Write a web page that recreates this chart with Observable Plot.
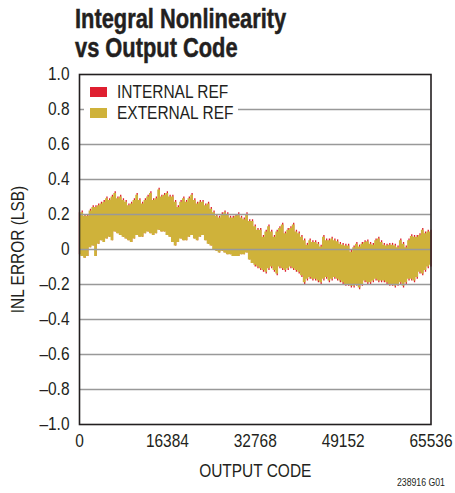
<!DOCTYPE html>
<html>
<head>
<meta charset="utf-8">
<script src="https://cdn.jsdelivr.net/npm/d3@7"></script>
<script src="https://cdn.jsdelivr.net/npm/@observablehq/plot@0.6"></script>
<style>
  body { margin: 0; background: #fff; }
  #wrap { position: relative; width: 455px; height: 493px; overflow: hidden; color: #231f20;
          font-family: "Liberation Sans", Arial, sans-serif; }
  #title { position: absolute; left: 75px; top: 3.5px; font-weight: bold; font-size: 28px; line-height: 29px;
           white-space: nowrap; transform: scaleX(0.78); transform-origin: 0 0; -webkit-text-stroke: 0.5px #231f20; }
  #chart { position: absolute; left: 0; top: 62px; }
  #legendBox { position: absolute; left: 84px; top: 82px; width: 154px; height: 44px; background: #fff; }
  .sw { position: absolute; left: 90px; width: 16.5px; height: 10.5px; }
  .lt { position: absolute; left: 116.5px; font-size: 18px; line-height: 18px; white-space: nowrap;
        transform: scaleX(0.86); transform-origin: 0 0; }
  #note { position: absolute; left: 397px; top: 477.5px; font-size: 10px; line-height: 10px; white-space: nowrap;
          transform: scaleX(0.87); transform-origin: 0 0; }
</style>
</head>
<body>
<div id="wrap">
  <div id="title">Integral Nonlinearity<br>vs Output Code</div>
  <div id="chart"></div>
  <div id="legendBox"></div>
  <div id="note">238916 G01</div>
</div>
<script>
// ---- data ----
const codes = [0,512,1024,1536,2048,2560,3072,3584,4096,4608,5120,5632,6144,6656,7168,7680,8192,8704,9216,9728,10240,10752,11264,11776,12288,12800,13312,13824,14336,14848,15360,15872,16384,16896,17408,17920,18432,18944,19456,19968,20480,20992,21504,22016,22528,23040,23552,24064,24576,25088,25600,26112,26624,27136,27648,28160,28672,29184,29696,30208,30720,31232,31744,32256,32768,33280,33792,34304,34816,35328,35840,36352,36864,37376,37888,38400,38912,39424,39936,40448,40960,41472,41984,42496,43008,43520,44032,44544,45056,45568,46080,46592,47104,47616,48128,48640,49152,49664,50176,50688,51200,51712,52224,52736,53248,53760,54272,54784,55296,55808,56320,56832,57344,57856,58368,58880,59392,59904,60416,60928,61440,61952,62464,62976,63488,64000,64512,65024,65536];

// EXTERNAL REF: max / min INL in each code bin (LSB)
const externalMax = [0.20,0.21,0.19,0.19,0.22,0.24,0.24,0.25,0.26,0.27,
  0.29,0.28,0.30,0.32,0.29,0.30,0.28,0.27,0.25,0.26,
  0.28,0.31,0.28,0.26,0.28,0.30,0.32,0.28,0.29,0.34,
  0.30,0.31,0.32,0.30,0.30,0.27,0.24,0.27,0.29,0.27,
  0.29,0.31,0.28,0.26,0.27,0.27,0.25,0.26,0.23,0.21,
  0.19,0.18,0.20,0.21,0.20,0.18,0.18,0.19,0.20,0.18,
  0.17,0.20,0.16,0.16,0.13,0.11,0.11,0.07,0.10,0.13,
  0.10,0.07,0.10,0.12,0.14,0.09,0.11,0.12,0.14,0.10,
  0.09,0.07,0.05,0.025,0.05,0.04,0.04,0.03,0.015,0.07,
  0.05,0.05,0.06,0.05,0.045,0.03,0.025,0.02,0.02,-0.015,
  0.01,0.03,0.015,0.03,0.04,0.045,0.03,0.025,0.05,0.06,
  0.04,0.025,0.02,0.025,0.025,0.02,0.01,0.05,0.03,0.01,
  0.05,0.075,0.07,0.07,0.08,0.11,0.09,0.10,0.10];
const externalMin = [-0.03,-0.04,-0.05,-0.04,0.01,0.02,-0.04,0.03,0.05,0.04,
  0.06,0.07,0.05,0.10,0.09,0.08,0.07,0.06,0.05,0.04,
  0.06,0.08,0.07,0.07,0.09,0.10,0.09,0.08,0.09,0.11,
  0.10,0.10,0.08,0.07,0.04,0.02,0.04,0.06,0.05,0.05,
  0.07,0.08,0.06,0.05,0.07,0.08,0.05,0.03,0.02,0.00,
  -0.01,-0.02,-0.01,-0.02,-0.03,-0.03,-0.04,-0.04,-0.04,-0.03,
  -0.03,-0.02,-0.06,-0.08,-0.09,-0.10,-0.11,-0.12,-0.13,-0.11,
  -0.10,-0.12,-0.14,-0.10,-0.11,-0.12,-0.11,-0.10,-0.11,-0.12,
  -0.13,-0.15,-0.19,-0.17,-0.16,-0.17,-0.17,-0.18,-0.19,-0.17,
  -0.16,-0.18,-0.17,-0.16,-0.17,-0.18,-0.19,-0.20,-0.20,-0.21,
  -0.21,-0.20,-0.22,-0.20,-0.18,-0.19,-0.19,-0.18,-0.17,-0.18,
  -0.18,-0.18,-0.19,-0.20,-0.20,-0.21,-0.20,-0.19,-0.21,-0.19,
  -0.17,-0.17,-0.18,-0.16,-0.13,-0.14,-0.12,-0.10,-0.09];

// INTERNAL REF: max / min INL in each code bin (LSB)
const internalMax = [0.21,0.22,0.20,0.20,0.23,0.25,0.25,0.26,0.27,0.28,
  0.30,0.29,0.31,0.33,0.30,0.31,0.29,0.28,0.26,0.27,
  0.29,0.32,0.29,0.27,0.29,0.31,0.33,0.29,0.30,0.35,
  0.31,0.32,0.33,0.31,0.31,0.28,0.25,0.28,0.30,0.28,
  0.30,0.32,0.29,0.27,0.28,0.28,0.26,0.27,0.24,0.22,
  0.20,0.19,0.21,0.22,0.21,0.19,0.19,0.20,0.21,0.19,
  0.18,0.21,0.17,0.17,0.14,0.12,0.12,0.08,0.11,0.14,
  0.11,0.08,0.11,0.13,0.15,0.10,0.12,0.13,0.15,0.11,
  0.10,0.08,0.06,0.035,0.06,0.05,0.05,0.04,0.025,0.08,
  0.06,0.06,0.07,0.06,0.055,0.04,0.035,0.03,0.03,-0.005,
  0.02,0.04,0.025,0.04,0.05,0.055,0.04,0.035,0.06,0.07,
  0.05,0.035,0.03,0.035,0.035,0.03,0.02,0.06,0.04,0.02,
  0.06,0.085,0.08,0.08,0.09,0.12,0.10,0.11,0.11];
const internalMin = [-0.03,-0.04,-0.05,-0.04,0.01,0.02,-0.04,0.03,0.05,0.04,
  0.06,0.07,0.05,0.10,0.09,0.08,0.07,0.06,0.05,0.04,
  0.06,0.08,0.07,0.07,0.09,0.10,0.09,0.08,0.09,0.11,
  0.10,0.10,0.08,0.07,0.04,0.02,0.04,0.06,0.05,0.05,
  0.07,0.08,0.06,0.05,0.07,0.08,0.05,0.03,0.02,0.00,
  -0.01,-0.02,-0.01,-0.02,-0.03,-0.03,-0.04,-0.04,-0.04,-0.03,
  -0.03,-0.02,-0.06,-0.08,-0.10,-0.11,-0.12,-0.13,-0.14,-0.12,
  -0.11,-0.13,-0.15,-0.11,-0.12,-0.13,-0.12,-0.11,-0.12,-0.13,
  -0.14,-0.16,-0.20,-0.18,-0.17,-0.18,-0.18,-0.19,-0.20,-0.18,
  -0.17,-0.19,-0.18,-0.17,-0.18,-0.19,-0.20,-0.21,-0.21,-0.22,
  -0.22,-0.21,-0.23,-0.21,-0.19,-0.20,-0.20,-0.19,-0.18,-0.19,
  -0.19,-0.19,-0.20,-0.21,-0.21,-0.22,-0.21,-0.20,-0.22,-0.20,
  -0.18,-0.18,-0.19,-0.17,-0.14,-0.15,-0.13,-0.11,-0.10];

const xTicks = [0, 16384, 32768, 49152, 65536];
const yTicks = [-1, -0.8, -0.6, -0.4, -0.2, 0, 0.2, 0.4, 0.6, 0.8, 1];
const seriesNames = ["INTERNAL REF", "EXTERNAL REF"];
const seriesColors = ["#df1f30", "#cfb23a"];

const fmtY = d => d === 0 ? "0" : (d < 0 ? "\u2013" : "") + Math.abs(d).toFixed(1);

const chart = Plot.plot({
  width: 455,
  height: 431,
  marginTop: 12,
  marginBottom: 69,
  marginLeft: 79,
  marginRight: 24.5,
  style: { fontFamily: '"Liberation Sans", Arial, sans-serif', fontSize: "18px", color: "#231f20", background: "transparent", overflow: "visible" },
  x: { domain: [0, 65536] },
  y: { domain: [-1, 1] },
  marks: [
    Plot.ruleX(codes, { x: codes, y1: internalMin, y2: internalMax, stroke: seriesColors[0], strokeWidth: 1.3 }),
    Plot.areaY(codes, { x: codes, y1: externalMin, y2: externalMax, fill: seriesColors[1], curve: "step" }),
    Plot.ruleY(yTicks.slice(1, -1), { stroke: "#999", strokeWidth: 1.4 }),
    Plot.axisX({ ticks: xTicks, tickSize: 0, tickPadding: 10, tickFormat: d => String(d),
                 label: "OUTPUT CODE", labelAnchor: "center", labelOffset: 52, labelArrow: "none" }),
    Plot.axisY({ ticks: yTicks, tickSize: 0, tickPadding: 10, tickFormat: fmtY,
                 label: "INL ERROR (LSB)", labelAnchor: "center", labelOffset: 68, labelArrow: "none" }),
    Plot.frame({ stroke: "#231f20", strokeWidth: 1.6 })
  ]
});
document.getElementById("chart").appendChild(chart);

// condense the SVG texts horizontally (narrow typeface look), each about its own anchor
const svg = chart.tagName.toLowerCase() === "svg" ? chart : chart.querySelector("svg");
svg.querySelectorAll("text").forEach(t => {
  const bb = t.getBBox();
  const anchor = getComputedStyle(t).textAnchor;
  const ax = anchor === "end" ? bb.x + bb.width : anchor === "middle" ? bb.x + bb.width / 2 : bb.x;
  const prev = t.getAttribute("transform") || "";
  t.setAttribute("transform", `${prev} translate(${ax},0) scale(0.86,1) translate(${-ax},0)`);
});

// legend
const wrap = document.getElementById("wrap");
seriesNames.forEach((name, i) => {
  const sw = document.createElement("div");
  sw.className = "sw";
  sw.style.top = (86.5 + i * 21.3) + "px";
  sw.style.background = seriesColors[i];
  wrap.appendChild(sw);
  const lt = document.createElement("div");
  lt.className = "lt";
  lt.style.top = (83 + i * 21.3) + "px";
  lt.textContent = name;
  wrap.appendChild(lt);
});
</script>
</body>
</html>
